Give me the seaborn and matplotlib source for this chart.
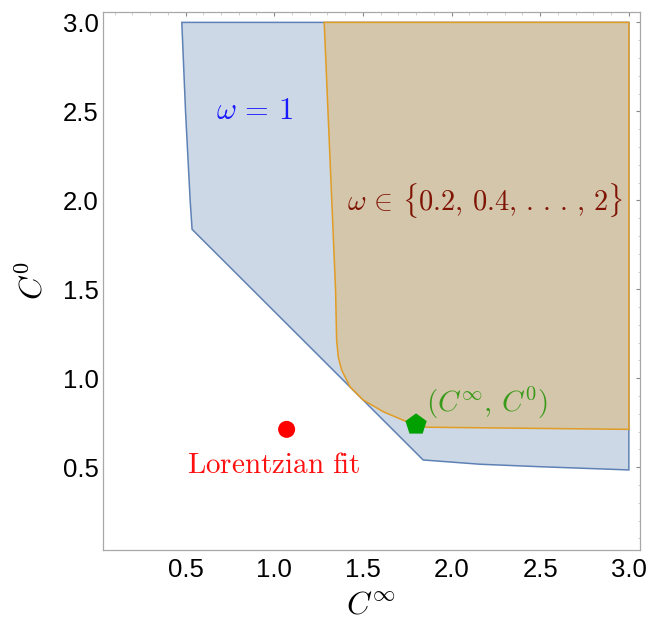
import numpy as np
import pandas as pd
import matplotlib
matplotlib.use("Agg")
import matplotlib.pyplot as plt
import seaborn as sns
from matplotlib.ticker import MultipleLocator

# ---- data ----
# omega = 1 allowed region (boundary, closed polygon)
blue_x = [0.479, 0.500, 0.526, 0.537, 1.840, 2.16, 2.5, 3.0, 3.0]
blue_y = [3.0, 2.5, 2.0, 1.837, 0.541, 0.517, 0.503, 0.485, 3.0]

# omega in {0.2,...,2} allowed region
orange_x = [1.282, 1.346, 1.352, 1.361, 1.380, 1.427, 1.502, 1.615, 1.747, 1.860, 3.0, 3.0]
orange_y = [3.0, 1.497, 1.215, 1.121, 1.047, 0.953, 0.878, 0.812, 0.756, 0.725, 0.713, 3.0]

fit_point = pd.DataFrame({"x": [1.07], "y": [0.713]})
est_point = pd.DataFrame({"x": [1.80], "y": [0.74]})

x_ticks = [0.5, 1.0, 1.5, 2.0, 2.5, 3.0]
y_ticks = [0.5, 1.0, 1.5, 2.0, 2.5, 3.0]
x_tick_labels = ["0.5", "1.0", "1.5", "2.0", "2.5", "3.0"]
y_tick_labels = ["0.5", "1.0", "1.5", "2.0", "2.5", "3.0"]

# ---- style ----
sns.set_theme(style="white")
plt.rcParams["font.family"] = ["Liberation Sans", "DejaVu Sans"]
plt.rcParams["mathtext.fontset"] = "cm"

fig = plt.figure(figsize=(6.64, 6.2), dpi=100)
ax = fig.add_axes([0.1547, 0.1129, 0.8092, 0.8682])

blue_fill = "#cdd8e6"
blue_edge = "#5e81b5"
tan_fill = "#d3c6ab"
orange_edge = "#e19c24"

ax.fill(blue_x, blue_y, facecolor=blue_fill, edgecolor=blue_edge, linewidth=1.1, zorder=1)
ax.fill(orange_x, orange_y, facecolor=tan_fill, edgecolor=orange_edge, linewidth=1.1, zorder=2)

sns.scatterplot(data=fit_point, x="x", y="y", ax=ax, color="#ff0000", s=150,
                marker="o", edgecolor="none", zorder=5)
sns.scatterplot(data=est_point, x="x", y="y", ax=ax, color="#00a000", s=260,
                marker="p", edgecolor="none", zorder=5)

ax.text(0.89, 2.5, r"$\omega\,=\,1$", color="#1a1aff", fontsize=22, ha="center", va="center")
ax.text(2.19, 2.0, r"$\omega\,\in\,\{0.2,\,0.4,\,.\,.\,.\,,\,2\}$", color="#7f1405",
        fontsize=20.5, ha="center", va="center")
ax.text(2.20, 0.86, r"$(C^{\infty},\,C^{0})$", color="#3a9a1a", fontsize=21,
        ha="center", va="center")
ax.text(0.997, 0.513, r"$\mathrm{Lorentzian\ fit}$", color="#ff1010", fontsize=21,
        ha="center", va="center")

ax.set_xlim(0.033, 3.063)
ax.set_ylim(0.035, 3.06)

ax.set_xticks(x_ticks)
ax.set_xticklabels(x_tick_labels)
ax.set_yticks(y_ticks)
ax.set_yticklabels(y_tick_labels)
ax.xaxis.set_minor_locator(MultipleLocator(0.1))
ax.yaxis.set_minor_locator(MultipleLocator(0.1))

ax.tick_params(which="both", direction="in", top=True, right=True,
               labeltop=False, labelright=False)
ax.tick_params(which="major", length=3.2, width=0.8, color="#888888",
               labelsize=18.5, labelcolor="black")
ax.tick_params(axis="x", which="major", pad=6)
ax.tick_params(axis="y", which="major", pad=3)
ax.tick_params(which="minor", length=1.8, width=0.6, color="#c8c8c8")

for sp in ax.spines.values():
    sp.set_visible(True)
    sp.set_color("#a8a8a8")
    sp.set_linewidth(0.9)

ax.set_xlabel(r"$C^{\infty}$", fontsize=23, labelpad=6, color="black")
ax.set_ylabel(r"$C^{0}$", fontsize=23, labelpad=10, color="black")

fig.savefig("out.png", dpi=100)
